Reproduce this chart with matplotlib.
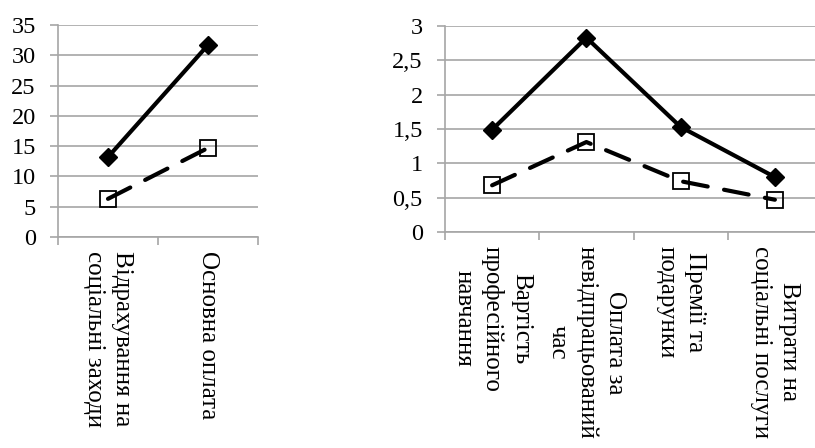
import matplotlib
matplotlib.use("Agg")
import matplotlib.pyplot as plt
import numpy as np

plt.rcParams['font.family'] = ['Liberation Serif', 'DejaVu Serif']

# left chart
cats_left = ["Відрахування на\nсоціальні заходи", "Основна оплата"]
solid_left = [13.2, 31.7]
dash_left = [6.3, 14.7]
yticks_left = [0, 5, 10, 15, 20, 25, 30, 35]

# right chart
cats_right = ["Вартість\nпрофесійного\nнавчання",
              "Оплата за\nневідпрацьований\nчас",
              "Премії та\nподарунки",
              "Витрати на\nсоціальні послуги"]
solid_right = [1.49, 2.83, 1.53, 0.80]
dash_right = [0.68, 1.31, 0.74, 0.47]
yticks_right = [0, 0.5, 1, 1.5, 2, 2.5, 3]

grid_col = "#a6a6a6"

fig = plt.figure(figsize=(8.15, 4.48), dpi=100)
ax1 = fig.add_axes([58/815, 1 - 237/448, 200/815, 212/448])
ax2 = fig.add_axes([445/815, 1 - 232/448, 377/815, 206/448])


def style(ax, cats, solid, dash, yticks, ylabels):
    n = len(cats)
    x = np.arange(n) + 0.5
    ax.plot(x, solid, color="black", lw=3, marker="D", ms=9.5,
            mfc="black", mec="black", zorder=4, clip_on=False)
    ax.plot(x, dash, color="black", lw=3, ls=(0, (6, 4)), marker="s", ms=12,
            mfc="none", mec="black", mew=1.3, zorder=4, clip_on=False,
            dash_capstyle="round")
    ax.set_xlim(0, n)
    ax.set_ylim(yticks[0], yticks[-1])
    ax.set_yticks(yticks)
    ax.set_yticklabels(ylabels, fontsize=17.5)
    ax.yaxis.grid(True, color=grid_col, lw=1.2)
    ax.set_axisbelow(True)
    for s in ["top", "right"]:
        ax.spines[s].set_visible(False)
    for s in ["left", "bottom"]:
        ax.spines[s].set_color(grid_col)
        ax.spines[s].set_linewidth(1.2)
    ax.tick_params(axis="y", length=6, width=1.2, color=grid_col, pad=10)
    ax.set_xticks(x)
    ax.set_xticklabels(cats, rotation=270, fontsize=18, va="top", ha="center",
                       linespacing=1.35)
    for lbl in ax.get_xticklabels():
        lbl.set_multialignment("center")
    ax.tick_params(axis="x", which="major", length=0, pad=10)
    ax.set_xticks(np.arange(n + 1), minor=True)
    ax.tick_params(axis="x", which="minor", length=6, width=1.2, color=grid_col)


style(ax1, cats_left, solid_left, dash_left, yticks_left,
      [str(v) for v in yticks_left])
style(ax2, cats_right, solid_right, dash_right, yticks_right,
      [("%g" % v).replace(".", ",") for v in yticks_right])

fig.savefig("out.png", dpi=100)
